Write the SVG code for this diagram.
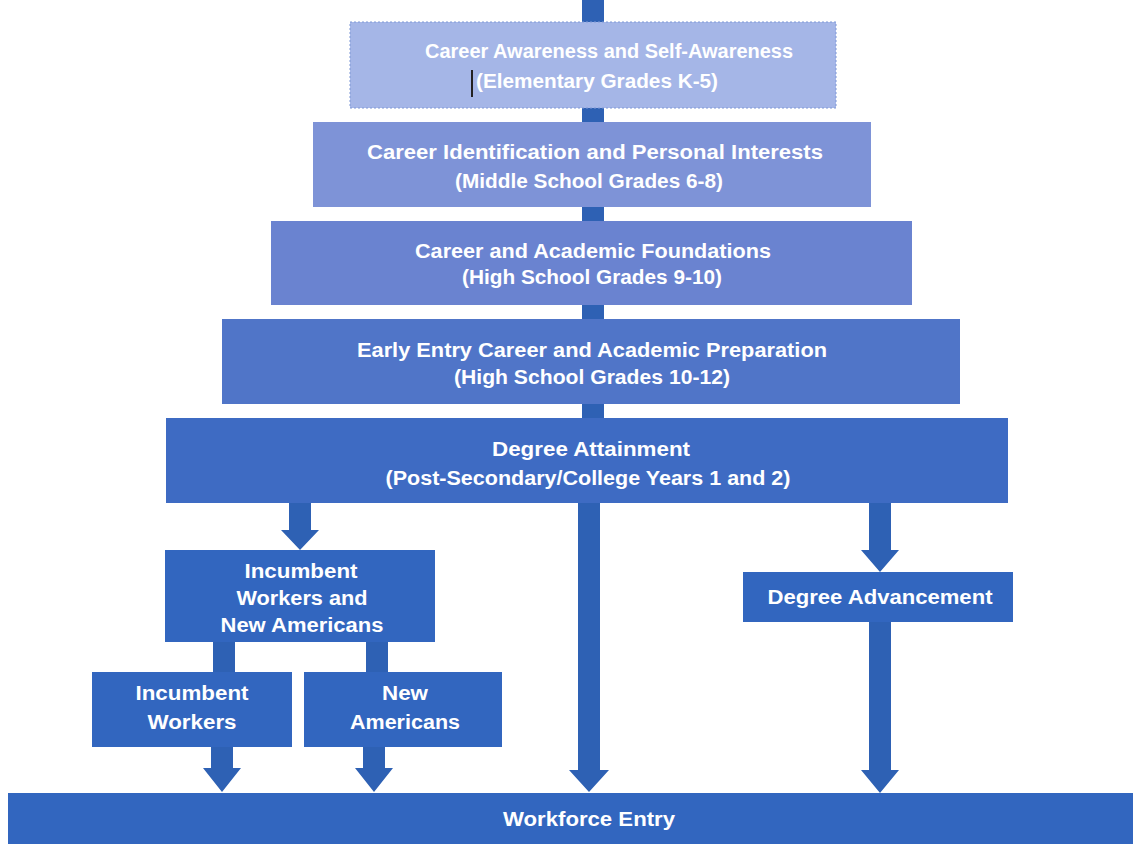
<svg xmlns="http://www.w3.org/2000/svg" width="1133" height="844" viewBox="0 0 1133 844">
<style>
.t{font-family:"Liberation Sans",Arial,sans-serif;font-weight:bold;font-size:20px;fill:#ffffff;text-anchor:middle}
.bar{fill:#2e61b4}
.low{fill:#3266bf}
</style>
<rect width="1133" height="844" fill="#ffffff"/>
<g id="connectors">
<rect class="bar" x="582" y="0" width="22" height="420"/>
<path class="bar" d="M578,503 H600 V770 H609 L589,792 L569,770 H578 Z"/>
<path class="bar" d="M289,503 H311 V530 H319 L300,550 L281,530 H289 Z"/>
<path class="bar" d="M869,503 H891 V550 H899 L880,572 L861,550 H869 Z"/>
<path class="bar" d="M869,622 H891 V770 H899 L880,793 L861,770 H869 Z"/>
<rect class="bar" x="213" y="640" width="22" height="34"/>
<rect class="bar" x="366" y="640" width="22" height="34"/>
<path class="bar" d="M211,745 H233 V768 H241 L222,792 L203,768 H211 Z"/>
<path class="bar" d="M363,745 H385 V768 H393 L374,792 L355,768 H363 Z"/>
</g>
<g id="n1">
<rect x="350" y="22" width="486" height="86" fill="#a5b6e7" stroke="#7f98d6" stroke-width="1" stroke-dasharray="2,2"/>
<text class="t" x="609" y="58" textLength="368" lengthAdjust="spacingAndGlyphs">Career Awareness and Self-Awareness</text>
<text class="t" x="597" y="88" textLength="242" lengthAdjust="spacingAndGlyphs">(Elementary Grades K-5)</text>
<line x1="472" y1="70" x2="472" y2="97" stroke="#222" stroke-width="2"/>
</g>
<g id="n2">
<rect x="313" y="122" width="558" height="85" fill="#7e93d7"/>
<text class="t" x="595" y="159" textLength="456" lengthAdjust="spacingAndGlyphs">Career Identification and Personal Interests</text>
<text class="t" x="589" y="188" textLength="268" lengthAdjust="spacingAndGlyphs">(Middle School Grades 6-8)</text>
</g>
<g id="n3">
<rect x="271" y="221" width="641" height="84" fill="#6a83d0"/>
<text class="t" x="593" y="258" textLength="356" lengthAdjust="spacingAndGlyphs">Career and Academic Foundations</text>
<text class="t" x="592" y="284" textLength="260" lengthAdjust="spacingAndGlyphs">(High School Grades 9-10)</text>
</g>
<g id="n4">
<rect x="222" y="319" width="738" height="85" fill="#5075c8"/>
<text class="t" x="592" y="357" textLength="470" lengthAdjust="spacingAndGlyphs">Early Entry Career and Academic Preparation</text>
<text class="t" x="592" y="384" textLength="276" lengthAdjust="spacingAndGlyphs">(High School Grades 10-12)</text>
</g>
<g id="n5">
<rect x="166" y="418" width="842" height="85" fill="#3e6bc3"/>
<text class="t" x="591" y="456" textLength="198" lengthAdjust="spacingAndGlyphs">Degree Attainment</text>
<text class="t" x="588" y="485" textLength="405" lengthAdjust="spacingAndGlyphs">(Post-Secondary/College Years 1 and 2)</text>
</g>
<g id="n6">
<rect class="low" x="165" y="550" width="270" height="92"/>
<text class="t" x="301" y="578" textLength="113" lengthAdjust="spacingAndGlyphs">Incumbent</text>
<text class="t" x="302" y="605" textLength="131" lengthAdjust="spacingAndGlyphs">Workers and</text>
<text class="t" x="302" y="632" textLength="163" lengthAdjust="spacingAndGlyphs">New Americans</text>
</g>
<g id="n7">
<rect class="low" x="92" y="672" width="200" height="75"/>
<text class="t" x="192" y="700" textLength="113" lengthAdjust="spacingAndGlyphs">Incumbent</text>
<text class="t" x="192" y="729" textLength="89" lengthAdjust="spacingAndGlyphs">Workers</text>
</g>
<g id="n8">
<rect class="low" x="304" y="672" width="198" height="75"/>
<text class="t" x="405" y="700" textLength="46" lengthAdjust="spacingAndGlyphs">New</text>
<text class="t" x="405" y="729" textLength="110" lengthAdjust="spacingAndGlyphs">Americans</text>
</g>
<g id="n9">
<rect class="low" x="743" y="572" width="270" height="50"/>
<text class="t" x="880" y="604" textLength="225" lengthAdjust="spacingAndGlyphs">Degree Advancement</text>
</g>
<g id="n10">
<rect class="low" x="8" y="793" width="1125" height="51"/>
<text class="t" x="589" y="826" textLength="172" lengthAdjust="spacingAndGlyphs">Workforce Entry</text>
</g>
</svg>
